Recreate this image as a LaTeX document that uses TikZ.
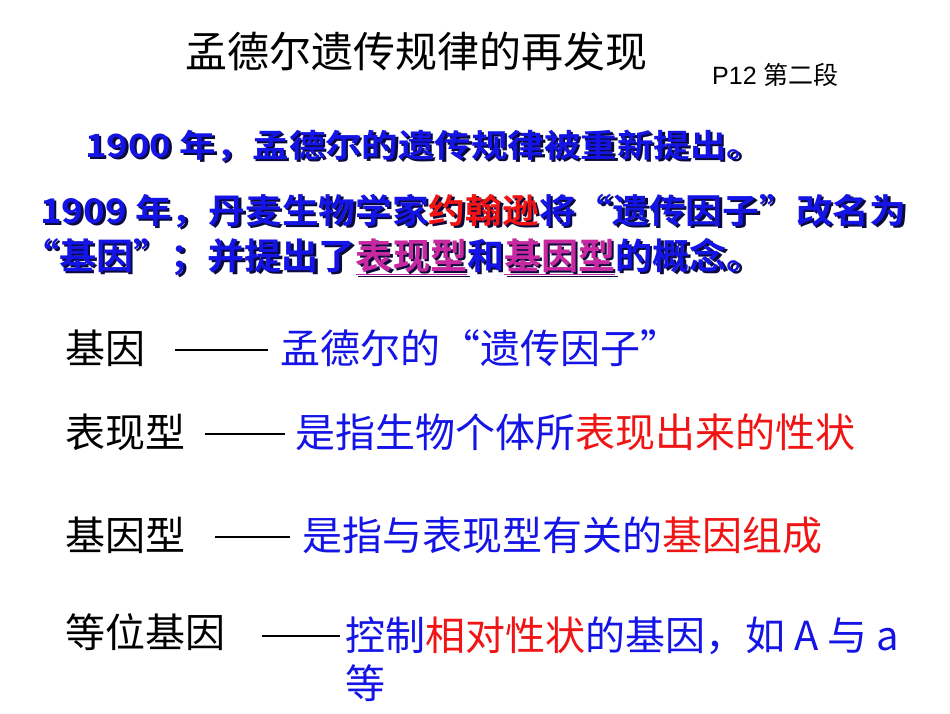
\documentclass[tikz,border=0pt]{standalone}
\usepackage{fontspec}
\setmainfont{Liberation Sans}
\newfontfamily\cjk{Noto Sans CJK SC}
\newfontfamily\cjkb{Noto Sans CJK SC Bold}
\definecolor{tblue}{RGB}{20,20,230}
\definecolor{tred}{RGB}{240,20,20}
\definecolor{tmag}{RGB}{200,40,160}
\definecolor{shad}{RGB}{10,10,60}
\colorlet{rcol}{tred}\colorlet{mcol}{tmag}
\newcommand{\rc}[1]{\textcolor{rcol}{#1}}
\newcommand{\mc}[1]{\textcolor{mcol}{\underline{#1}}}
\newcommand{\shtext}[2]{\makebox[0pt][l]{\colorlet{rcol}{shad}\colorlet{mcol}{shad}\color{shad}\kern2.5pt\raisebox{-2.5pt}{\scalebox{#1}[1]{#2}}}\color{tblue}\scalebox{#1}[1]{#2}}
\begin{document}
\begin{tikzpicture}[x=1pt,y=-1pt,
  lab/.style={anchor=west,inner sep=0,font=\cjk\fontsize{40}{40}\selectfont},
  bline/.style={anchor=west,inner sep=0},
  dashline/.style={draw,line width=1.6pt}]
\useasboundingbox[fill=white] (0,0) rectangle (950,713);
\node[inner sep=0,font=\cjk\fontsize{42}{42}\selectfont] (title) at (416,52) {孟德尔遗传规律的再发现};
\node[anchor=west,inner sep=0] (page) at (712,75) {\fontsize{25}{25}\selectfont P12 \cjk 第二段};
\node[bline] (l1) at (85,147) {\cjkb\fontsize{32}{32}\selectfont\shtext{1.14}{1900 年，孟德尔的遗传规律被重新提出。}};
\node[bline] (l2) at (40,212) {\cjkb\fontsize{34}{34}\selectfont\shtext{1.08}{1909 年，丹麦生物学家\rc{约翰逊}将“遗传因子”改名为}};
\node[bline] (l3) at (22,258) {\cjkb\fontsize{36}{36}\selectfont\shtext{1.03}{“基因”；并提出了\mc{表现型}和\mc{基因型}的概念。}};
\node[lab] (g1) at (65,348) {基因};
\coordinate (d1a) at (175,350); \coordinate (d1b) at (268,350);
\draw[dashline] (d1a) -- (d1b);
\node[lab,text=tblue] (t1) at (280,348) {孟德尔的“遗传因子”};
\node[lab] (g2) at (65,432) {表现型};
\coordinate (d2a) at (205,434); \coordinate (d2b) at (285,434);
\draw[dashline] (d2a) -- (d2b);
\node[lab,text=tblue] (t2) at (295,432) {是指生物个体所\textcolor{tred}{表现出来的性状}};
\node[lab] (g3) at (65,535) {基因型};
\coordinate (d3a) at (215,537); \coordinate (d3b) at (290,537);
\draw[dashline] (d3a) -- (d3b);
\node[lab,text=tblue] (t3) at (302,535) {是指与表现型有关的\textcolor{tred}{基因组成}};
\node[lab] (g4) at (65,632) {等位基因};
\coordinate (d4a) at (262,636); \coordinate (d4b) at (340,636);
\draw[dashline] (d4a) -- (d4b);
\node[lab,text=tblue] (t4) at (345,636) {控制\textcolor{tred}{相对性状}的基因，如 A 与 a};
\node[lab,text=tblue] (t5) at (345,683) {等};
\end{tikzpicture}
\end{document}
